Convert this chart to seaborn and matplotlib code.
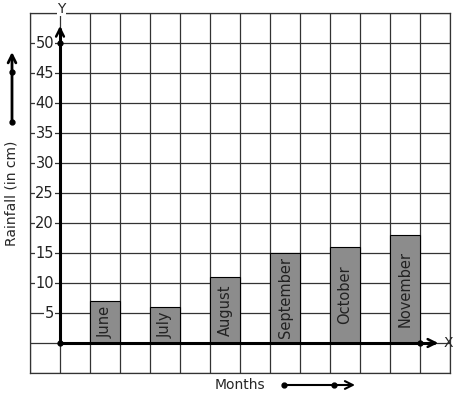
import matplotlib
matplotlib.use("Agg")
import matplotlib.pyplot as plt
import seaborn as sns
import pandas as pd

months = ["June", "July", "August", "September", "October", "November"]
rainfall = [7, 6, 11, 15, 16, 18]
y_ticks = [5, 10, 15, 20, 25, 30, 35, 40, 45, 50]

sns.set_style("white")
plt.rcParams["font.family"] = ["DejaVu Sans"]

W, H = 457, 399
fig = plt.figure(figsize=(W / 100, H / 100), dpi=100)
# grid area: pixels 30..450 horizontally, 13..373 vertically
ax = fig.add_axes([30 / W, (H - 373) / H, 420 / W, 360 / H])

# bars sit on every other cell, starting one cell right of the y axis
df = pd.DataFrame({"pos": [1.5 + 2 * i for i in range(len(months))],
                   "month": months, "rain": rainfall})
sns.barplot(data=df, x="pos", y="rain", native_scale=True, width=0.5,
            color="#8c8c8c", saturation=1, edgecolor="black", linewidth=0.8,
            ax=ax, zorder=3)

for _, r in df.iterrows():
    ax.text(r["pos"], r["rain"] / 2, r["month"], rotation=90, ha="center",
            va="center", fontsize=10.5, color="#222222", zorder=4)

ax.set_xlim(-1, 13)
ax.set_ylim(-5, 55)
ax.set_xticks(range(-1, 14))
ax.set_yticks(range(-5, 56, 5))
ax.set_xticklabels([])
ax.set_yticklabels([])
ax.tick_params(length=0)
ax.grid(True, color="#333333", linewidth=0.9, zorder=0)
ax.set_axisbelow(True)
for s in ax.spines.values():
    s.set_color("#333333")
    s.set_linewidth(0.9)
ax.set_xlabel("")
ax.set_ylabel("")

# tick values drawn over the grid lines
for v in y_ticks:
    ax.text(-0.2, v, str(v), ha="right", va="center", fontsize=10.5,
            color="#222222", zorder=5,
            bbox=dict(facecolor="white", edgecolor="none", pad=0.5))

# main axes with arrows
ax.plot([0, 0], [0, 52.5], color="black", lw=2.2, zorder=6, solid_capstyle="butt")
ax.plot([0, 12.5], [0, 0], color="black", lw=2.2, zorder=6, solid_capstyle="butt")
ax.annotate("", xy=(0, 53.3), xytext=(0, 51), zorder=7,
            arrowprops=dict(arrowstyle="->", lw=1.8, color="black", mutation_scale=14))
ax.annotate("", xy=(12.7, 0), xytext=(12.2, 0), zorder=7,
            arrowprops=dict(arrowstyle="->", lw=1.8, color="black", mutation_scale=14))
ax.plot([0, 0, 12], [0, 50, 0], "o", color="black", ms=3.5, zorder=8, clip_on=False)
ax.text(0.05, 55.7, "Y", ha="center", va="center", fontsize=10, clip_on=False,
        zorder=8, bbox=dict(facecolor="white", edgecolor="none", pad=0.5))
ax.text(12.95, 0, "X", ha="center", va="center", fontsize=10, clip_on=False, zorder=8)

# outside labels and direction arrows (figure pixels)
fig.text(12 / W, 1 - 193 / H, "Rainfall (in cm)", rotation=90, ha="center",
         va="center", fontsize=10)
fig.text(240 / W, 1 - 385 / H, "Months", ha="center", va="center", fontsize=10)

ax.annotate("", xy=(12, H - 52), xytext=(12, H - 122), xycoords="figure pixels",
            textcoords="figure pixels",
            arrowprops=dict(arrowstyle="->", lw=2, color="black", mutation_scale=14,
                            shrinkA=0, shrinkB=0))
fig.add_artist(plt.Line2D([12 / W, 12 / W], [(H - 122) / H, (H - 72) / H],
                          marker="o", ms=3.5, lw=0, color="black"))
ax.annotate("", xy=(355, H - 385), xytext=(284, H - 385), xycoords="figure pixels",
            textcoords="figure pixels",
            arrowprops=dict(arrowstyle="->", lw=1.5, color="black", mutation_scale=14,
                            shrinkA=0, shrinkB=0))
fig.add_artist(plt.Line2D([284 / W, 334 / W], [(H - 385) / H, (H - 385) / H],
                          marker="o", ms=3.5, lw=0, color="black"))

fig.savefig("out.png", dpi=100)
